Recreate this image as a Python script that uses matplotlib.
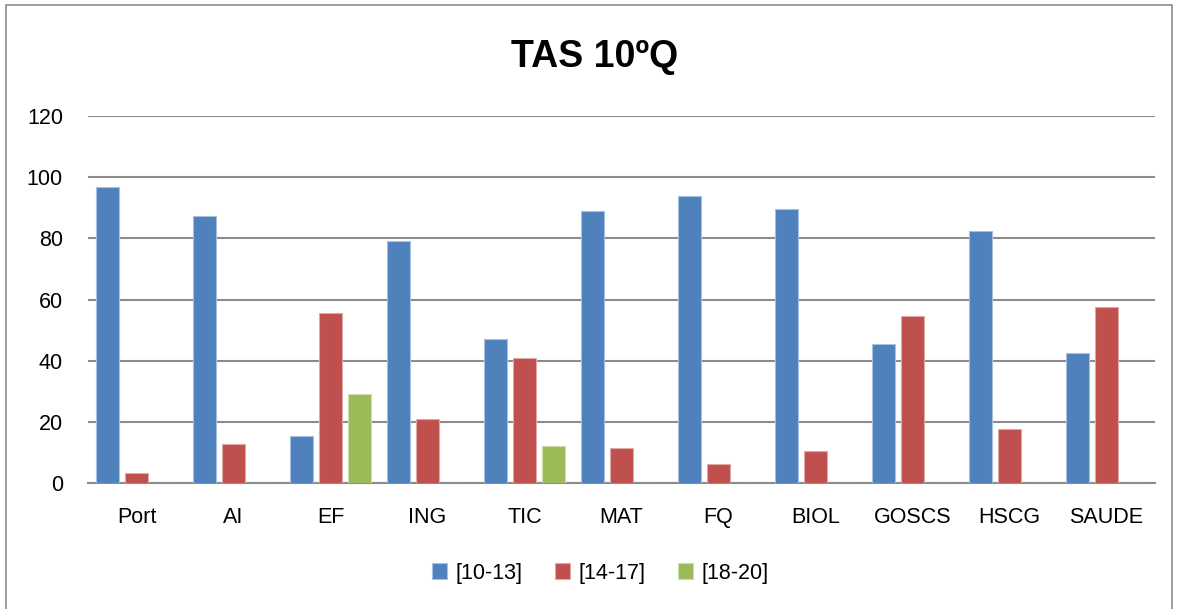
import matplotlib
matplotlib.use("Agg")
import matplotlib.pyplot as plt
import numpy as np
from matplotlib.patches import Rectangle

categories = ["Port", "AI", "EF", "ING", "TIC", "MAT", "FQ", "BIOL", "GOSCS", "HSCG", "SAUDE"]
s_10_13 = [96.9, 87.2, 15.3, 79.2, 47.0, 88.9, 93.9, 89.5, 45.5, 82.5, 42.6]
s_14_17 = [3.3, 12.9, 55.5, 20.8, 40.8, 11.3, 6.2, 10.5, 54.5, 17.5, 57.6]
s_18_20 = [0, 0, 29.2, 0, 12.1, 0, 0, 0, 0, 0, 0]
series_names = ["[10-13]", "[14-17]", "[18-20]"]
colors = ["#4F81BD", "#C0504D", "#9BBB59"]
edges = ["#A7C0DE", "#E0A8A6", "#CDDDAC"]
yticks = [0, 20, 40, 60, 80, 100, 120]

plt.rcParams['font.family'] = ['Liberation Sans', 'DejaVu Sans']

W, H = 1178, 609
fig = plt.figure(figsize=(W/100, H/100), dpi=100)
ax = fig.add_axes([88/W, 1-483/H, (1155-88)/W, (483-116)/H])

x = np.arange(len(categories))
bw = 0.237
step = 0.294
for i, (vals, name) in enumerate(zip([s_10_13, s_14_17, s_18_20], series_names)):
    ax.bar(x + (i-1)*step, vals, width=bw, color=colors[i], edgecolor=edges[i],
           linewidth=0.8, label=name, zorder=3)

ax.set_xlim(-0.5, len(categories)-0.5)
ax.set_ylim(0, 120)
ax.set_yticks(yticks)
ax.set_xticks(x)
ax.set_xticklabels(categories)
ax.yaxis.grid(True, color="#8C8C8C", linewidth=1.5, zorder=0)
ax.set_axisbelow(True)
for s in ["top", "right", "left"]:
    ax.spines[s].set_visible(False)
ax.spines["bottom"].set_color("#8C8C8C")
ax.spines["bottom"].set_linewidth(1.5)
ax.tick_params(axis="y", length=0, pad=18, labelsize=15.5)
ax.tick_params(axis="x", length=0, pad=17, labelsize=15.5)

fig.text(595/W, 1-57/H, "TAS 10ºQ", ha="center", va="center", fontsize=27, fontweight="bold")

leg = fig.legend(loc="center", bbox_to_anchor=(600/W, 1-573/H), ncol=3, frameon=False,
                 fontsize=15.5, handlelength=0.7, handleheight=0.7, handletextpad=0.4,
                 columnspacing=1.5)

fig.patches.append(Rectangle((6/W, -0.01), (1172-6)/W, 1-5/H+0.01, transform=fig.transFigure,
                             fill=False, edgecolor="#8C8C8C", linewidth=1.2))

fig.savefig("out.png", dpi=100)
